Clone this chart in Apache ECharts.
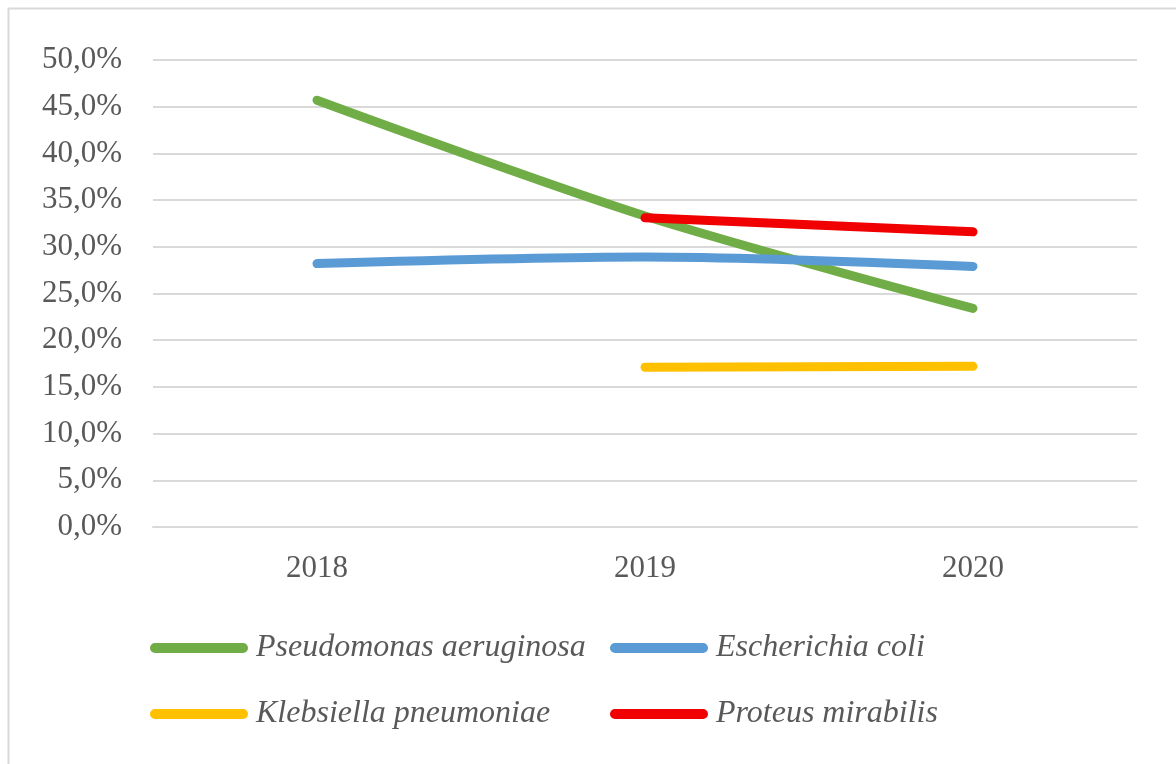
<!DOCTYPE html>
<html>
<head>
<meta charset="utf-8">
<script src="https://cdn.jsdelivr.net/npm/echarts@6/dist/echarts.min.js"></script>
<style>
  html, body { margin: 0; padding: 0; background: #ffffff; }
  #chart { width: 1176px; height: 764px; }
</style>
</head>
<body>
<div id="chart"></div>
<script>
// Years on the category axis
const years = ['2018', '2019', '2020'];

// Share of isolates per organism, in percent (null = not recorded that year)
const pseudomonas = [45.7, 33.3, 23.4];
const ecoli = [28.2, 28.9, 27.9];
const klebsiella = [null, 17.1, 17.2];
const proteus = [null, 33.1, 31.6];

// Y axis range and step, in percent
const yMin = 0;
const yMax = 50;
const yStep = 5;

const chart = echarts.init(document.getElementById('chart'), null, { renderer: 'canvas' });

const serif = '"Liberation Serif", "DejaVu Serif", serif';
const textColor = '#595959';

function lineSeries(name, data, color) {
  return {
    name: name,
    type: 'line',
    data: data,
    smooth: 0.3,
    showSymbol: false,
    symbol: 'none',
    connectNulls: false,
    lineStyle: { color: color, width: 9, cap: 'round', join: 'round' },
    itemStyle: { color: color },
    emphasis: { disabled: true }
  };
}

// Pill-shaped legend swatch, like a thick line with round caps
const pillIcon = 'path://M5,0 L95,0 A5,5 0 0 1 95,10 L5,10 A5,5 0 0 1 5,0 Z';

const legendCommon = {
  orient: 'vertical',
  top: 632,
  padding: 0,
  itemWidth: 98,
  itemHeight: 10,
  itemGap: 34,
  icon: pillIcon,
  selectedMode: false,
  textStyle: {
    fontFamily: serif,
    fontStyle: 'italic',
    fontSize: 32,
    color: textColor,
    padding: [0, 0, 0, 3]
  }
};

chart.setOption({
  backgroundColor: '#ffffff',
  animation: false,
  graphic: [{
    type: 'rect',
    shape: { x: 8.5, y: 8.5, width: 1200, height: 800 },
    style: { fill: 'none', stroke: '#d9d9d9', lineWidth: 2 },
    silent: true
  }],
  grid: { left: 153, right: 39, top: 60, bottom: 237 },
  xAxis: {
    type: 'category',
    data: years,
    boundaryGap: true,
    axisLine: { show: true, lineStyle: { color: '#d9d9d9', width: 2 } },
    axisTick: { show: false },
    axisLabel: {
      margin: 26,
      fontFamily: serif,
      fontSize: 31,
      color: textColor
    }
  },
  yAxis: {
    type: 'value',
    min: yMin,
    max: yMax,
    interval: yStep,
    axisLine: { show: false },
    axisTick: { show: false },
    splitLine: { lineStyle: { color: '#d9d9d9', width: 2 } },
    axisLabel: {
      margin: 31,
      fontFamily: serif,
      fontSize: 31,
      color: textColor,
      formatter: v => v.toFixed(1).replace('.', ',') + '%'
    }
  },
  legend: [
    Object.assign({}, legendCommon, {
      left: 150,
      data: ['Pseudomonas aeruginosa', 'Klebsiella pneumoniae']
    }),
    Object.assign({}, legendCommon, {
      left: 610,
      data: ['Escherichia coli', 'Proteus mirabilis']
    })
  ],
  series: [
    lineSeries('Pseudomonas aeruginosa', pseudomonas, '#70ad47'),
    lineSeries('Escherichia coli', ecoli, '#5b9bd5'),
    lineSeries('Klebsiella pneumoniae', klebsiella, '#ffc000'),
    lineSeries('Proteus mirabilis', proteus, '#f00000')
  ]
});
</script>
</body>
</html>
